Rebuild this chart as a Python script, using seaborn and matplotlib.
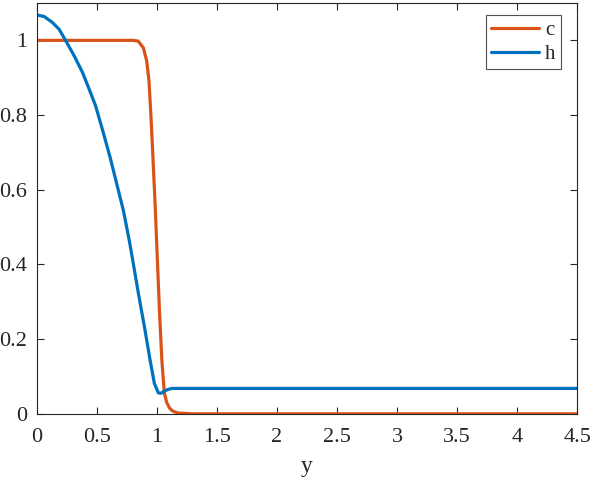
import numpy as np
import pandas as pd
import matplotlib
matplotlib.use("Agg")
import matplotlib.pyplot as plt
import seaborn as sns

# values
y_c = [0, 0.4, 0.8, 0.845, 0.888, 0.916, 0.935, 0.952, 0.966, 0.986, 1.005,
       1.022, 1.042, 1.063, 1.083, 1.105, 1.125, 1.15, 1.18, 1.3, 4.5]
c_vals = [1, 1, 1, 0.998, 0.98, 0.945, 0.891, 0.793, 0.70, 0.56, 0.411,
          0.277, 0.144, 0.055, 0.03, 0.016, 0.009, 0.005, 0.002, 0, 0]

y_h = [0, 0.061, 0.13, 0.186, 0.242, 0.311, 0.38, 0.436, 0.49, 0.55, 0.611,
       0.667, 0.722, 0.772, 0.797, 0.847, 0.897, 0.944, 0.98, 1.013, 1.035,
       1.055, 1.09, 1.125, 1.18, 1.3, 4.5]
h_vals = [1.068, 1.064, 1.048, 1.030, 0.999, 0.959, 0.915, 0.870, 0.825, 0.758,
          0.687, 0.615, 0.544, 0.462, 0.416, 0.322, 0.233, 0.144, 0.081, 0.056,
          0.055, 0.059, 0.065, 0.068, 0.068, 0.068, 0.068]

df = pd.concat([
    pd.DataFrame({"y": y_c, "value": c_vals, "var": "c"}),
    pd.DataFrame({"y": y_h, "value": h_vals, "var": "h"}),
])

sns.set_style("ticks")
plt.rcParams['font.family'] = ['Liberation Serif', 'DejaVu Serif']

fig = plt.figure(figsize=(5.98, 4.78), dpi=100)
ax = fig.add_axes([0.0614, 0.1343, 0.9036, 0.8594])

sns.lineplot(data=df, x="y", y="value", hue="var", sort=False, estimator=None,
             palette={"c": "#D95319", "h": "#0072BD"}, linewidth=2.3, ax=ax)

ax.set_xlim(0, 4.5)
ax.set_ylim(0, 1.1)
ax.set_xticks(np.arange(0, 4.51, 0.5))
ax.set_xticklabels(["0", "0.5", "1", "1.5", "2", "2.5", "3", "3.5", "4", "4.5"])
ax.set_yticks([0, 0.2, 0.4, 0.6, 0.8, 1.0])
ax.set_yticklabels(["0", "0.2", "0.4", "0.6", "0.8", "1"])
ax.set_xlabel("y", fontsize=17, labelpad=7)
ax.set_ylabel("")

for s in ax.spines.values():
    s.set_color("#262626")
    s.set_linewidth(0.8)
ax.tick_params(direction="in", top=True, right=True, length=5, width=0.8,
               colors="#262626", labelsize=16, pad=7)
ax.tick_params(axis="x", pad=10)

leg = ax.legend(loc="upper right", bbox_to_anchor=(0.97, 0.97), fontsize=15,
                frameon=True, fancybox=False, edgecolor="#262626",
                handlelength=2.3, handletextpad=0.3, borderpad=0.25,
                labelspacing=0.2, borderaxespad=0)
leg.get_frame().set_linewidth(0.8)

fig.savefig("out.png", dpi=100)
